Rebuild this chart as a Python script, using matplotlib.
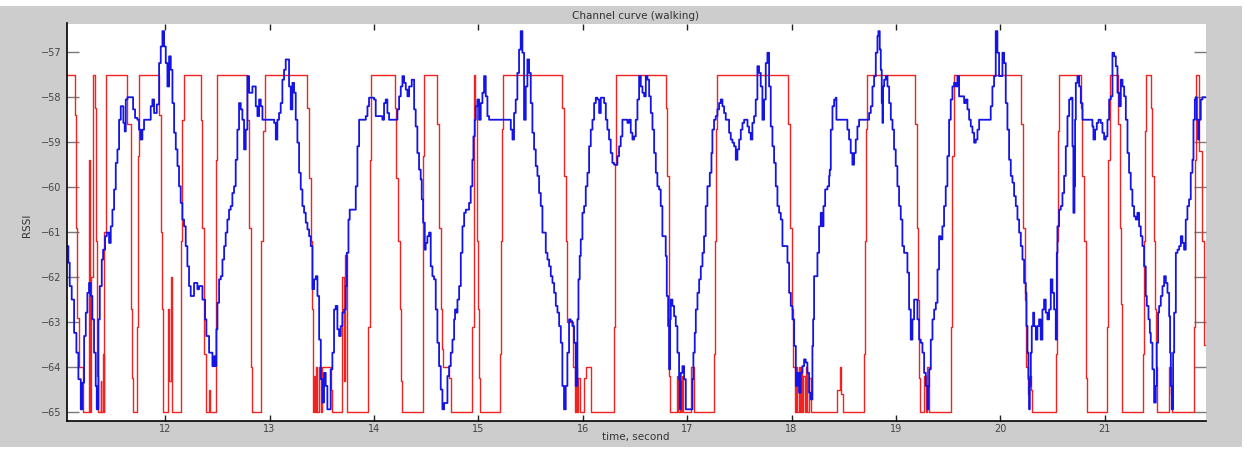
import matplotlib
matplotlib.use("Agg")
import matplotlib.pyplot as plt
from matplotlib.patches import Rectangle

# red curve : stepped estimate (time in s, RSSI)
red_t = [11.064, 11.134, 11.144, 11.160, 11.176, 11.214, 11.271, 11.281, 11.290, 11.313,
         11.326, 11.335, 11.351, 11.360, 11.383, 11.390, 11.405, 11.411, 11.415, 11.431,
         11.639, 11.671, 11.686, 11.693, 11.735, 11.741, 11.747, 11.942, 11.964, 11.974,
         11.984, 12.031, 12.038, 12.054, 12.064, 12.150, 12.166, 12.181, 12.341, 12.357,
         12.373, 12.389, 12.421, 12.431, 12.491, 12.501, 12.788, 12.804, 12.820, 12.830,
         12.916, 12.922, 12.938, 12.954, 13.363, 13.379, 13.395, 13.411, 13.420, 13.427,
         13.437, 13.446, 13.456, 13.475, 13.490, 13.506, 13.586, 13.600, 13.698, 13.710,
         13.725, 13.746, 13.947, 13.960, 13.969, 14.203, 14.215, 14.231, 14.247, 14.257,
         14.265, 14.474, 14.480, 14.608, 14.624, 14.640, 14.652, 14.660, 14.720, 14.736,
         14.943, 14.959, 14.970, 14.985, 15.001, 15.010, 15.017, 15.205, 15.221, 15.230,
         15.237, 15.799, 15.821, 15.837, 15.853, 15.908, 15.924, 15.935, 15.943, 15.959,
         15.970, 16.013, 16.029, 16.083, 16.300, 16.310, 16.323, 16.795, 16.811, 16.822,
         16.830, 16.840, 16.907, 16.915, 16.930, 16.939, 16.955, 16.962, 17.040, 17.067,
         17.258, 17.268, 17.280, 17.290, 17.970, 17.983, 18.002, 18.015, 18.030, 18.040,
         18.056, 18.068, 18.078, 18.088, 18.100, 18.112, 18.125, 18.140, 18.152, 18.170,
         18.184, 18.440, 18.462, 18.478, 18.490, 18.695, 18.705, 18.717, 18.727, 19.184,
         19.206, 19.216, 19.222, 19.230, 19.270, 19.285, 19.295, 19.318, 19.525, 19.541,
         19.557, 20.196, 20.218, 20.234, 20.250, 20.265, 20.275, 20.290, 20.308, 20.531,
         20.541, 20.553, 20.563, 20.771, 20.787, 20.803, 20.818, 20.834, 21.026, 21.036,
         21.048, 21.131, 21.144, 21.154, 21.170, 21.368, 21.377, 21.387, 21.393, 21.441,
         21.457, 21.473, 21.483, 21.495, 21.505, 21.617, 21.633, 21.649, 21.856, 21.866,
         21.878, 21.900, 21.930, 21.950, 21.970]
red_v = [-57.5, -58.4, -60.9, -62.9, -64.0, -65.0, -59.4, -65.0, -62.0, -57.5,
         -58.25, -61.2, -64.2, -65.0, -64.3, -65.0, -63.7, -65.0, -61.0, -57.5,
         -58.6, -62.7, -64.25, -65.0, -63.1, -59.3, -57.5, -58.4, -61.0, -62.7,
         -65.0, -62.7, -64.3, -62.0, -65.0, -61.2, -58.5, -57.5, -58.5, -60.9,
         -63.7, -65.0, -64.5, -65.0, -59.4, -57.5, -58.5, -60.9, -64.0, -65.0,
         -63.7, -61.2, -58.75, -57.5, -58.25, -59.8, -61.2, -62.7, -65.0, -64.2,
         -65.0, -64.0, -65.0, -64.0, -65.0, -64.0, -64.5, -65.0, -62.0, -64.3,
         -61.5, -65.0, -63.1, -59.4, -57.5, -58.25, -59.8, -61.2, -62.7, -64.3,
         -65.0, -59.3, -57.5, -58.6, -60.9, -62.7, -63.6, -64.0, -64.25, -65.0,
         -63.1, -57.5, -58.2, -61.2, -62.7, -64.25, -65.0, -63.7, -61.2, -58.7,
         -57.5, -58.25, -59.75, -61.2, -63.0, -64.0, -65.0, -64.0, -65.0, -64.25,
         -65.0, -64.25, -64.0, -65.0, -63.1, -59.5, -57.5, -58.25, -59.75, -61.2,
         -64.2, -65.0, -64.2, -65.0, -64.3, -65.0, -64.2, -65.0, -64.0, -65.0,
         -63.7, -61.2, -58.7, -57.5, -58.6, -60.9, -62.7, -64.0, -65.0, -64.0,
         -65.0, -64.0, -65.0, -64.0, -65.0, -64.2, -65.0, -64.0, -65.0, -64.25,
         -65.0, -64.5, -64.0, -64.6, -65.0, -63.7, -61.2, -58.7, -57.5, -58.6,
         -60.9, -62.5, -64.25, -65.0, -64.2, -65.0, -64.0, -65.0, -63.1, -59.3,
         -57.5, -58.6, -60.9, -62.5, -64.0, -64.6, -64.2, -64.5, -65.0, -63.7,
         -61.2, -58.75, -57.5, -58.25, -59.75, -61.2, -64.25, -65.0, -63.1, -59.4,
         -57.5, -58.6, -60.9, -62.6, -65.0, -63.7, -61.2, -58.75, -57.5, -58.25,
         -59.75, -61.2, -62.7, -64.0, -65.0, -64.0, -64.6, -65.0, -63.1, -59.4,
         -57.5, -59.2, -61.2, -63.5, -63.5]

# blue curve : measured RSSI
blue_t = [11.064, 11.073, 11.086, 11.105, 11.128, 11.150, 11.169, 11.192, 11.208, 11.224,
          11.240, 11.255, 11.271, 11.287, 11.303, 11.319, 11.335, 11.345, 11.361, 11.374,
          11.393, 11.406, 11.425, 11.441, 11.463, 11.479, 11.495, 11.511, 11.527, 11.543,
          11.559, 11.575, 11.591, 11.600, 11.613, 11.623, 11.639, 11.671, 11.693, 11.712,
          11.734, 11.750, 11.766, 11.782, 11.798, 11.830, 11.862, 11.878, 11.894, 11.920,
          11.942, 11.958, 11.974, 11.990, 12.006, 12.022, 12.038, 12.054, 12.070, 12.086,
          12.102, 12.118, 12.133, 12.149, 12.165, 12.181, 12.197, 12.213, 12.229, 12.245,
          12.277, 12.309, 12.325, 12.357, 12.383, 12.395, 12.421, 12.453, 12.469, 12.478,
          12.491, 12.501, 12.517, 12.533, 12.549, 12.565, 12.580, 12.596, 12.612, 12.628,
          12.644, 12.660, 12.676, 12.692, 12.708, 12.724, 12.740, 12.756, 12.772, 12.788,
          12.804, 12.836, 12.868, 12.884, 12.900, 12.916, 12.932, 13.044, 13.060, 13.075,
          13.091, 13.107, 13.123, 13.139, 13.155, 13.187, 13.203, 13.219, 13.235, 13.251,
          13.267, 13.283, 13.299, 13.315, 13.331, 13.347, 13.363, 13.379, 13.395, 13.411,
          13.427, 13.443, 13.459, 13.475, 13.491, 13.507, 13.522, 13.538, 13.554, 13.586,
          13.602, 13.618, 13.634, 13.650, 13.666, 13.682, 13.698, 13.714, 13.730, 13.740,
          13.756, 13.768, 13.794, 13.826, 13.842, 13.858, 13.922, 13.938, 13.953, 13.985,
          14.001, 14.017, 14.081, 14.097, 14.113, 14.129, 14.145, 14.225, 14.241, 14.257,
          14.273, 14.289, 14.305, 14.321, 14.337, 14.362, 14.385, 14.400, 14.416, 14.432,
          14.448, 14.458, 14.471, 14.487, 14.496, 14.512, 14.528, 14.544, 14.560, 14.576,
          14.592, 14.608, 14.624, 14.640, 14.656, 14.672, 14.704, 14.720, 14.736, 14.752,
          14.768, 14.777, 14.790, 14.800, 14.816, 14.832, 14.848, 14.864, 14.880, 14.911,
          14.927, 14.943, 14.953, 14.966, 14.975, 14.991, 15.007, 15.023, 15.039, 15.055,
          15.071, 15.087, 15.103, 15.311, 15.327, 15.342, 15.358, 15.374, 15.390, 15.406,
          15.422, 15.438, 15.454, 15.470, 15.486, 15.502, 15.518, 15.534, 15.550, 15.566,
          15.582, 15.598, 15.614, 15.646, 15.662, 15.678, 15.694, 15.710, 15.726, 15.742,
          15.758, 15.774, 15.790, 15.805, 15.821, 15.837, 15.853, 15.869, 15.885, 15.901,
          15.917, 15.933, 15.949, 15.959, 15.971, 15.981, 15.997, 16.013, 16.029, 16.045,
          16.061, 16.077, 16.093, 16.109, 16.125, 16.141, 16.157, 16.173, 16.205, 16.221,
          16.236, 16.252, 16.268, 16.284, 16.300, 16.332, 16.348, 16.364, 16.380, 16.428,
          16.444, 16.460, 16.476, 16.492, 16.508, 16.524, 16.540, 16.556, 16.572, 16.588,
          16.604, 16.620, 16.636, 16.652, 16.668, 16.684, 16.700, 16.715, 16.731, 16.747,
          16.763, 16.795, 16.805, 16.818, 16.827, 16.837, 16.843, 16.859, 16.875, 16.891,
          16.907, 16.923, 16.929, 16.939, 16.955, 16.971, 16.987, 17.051, 17.060, 17.073,
          17.083, 17.099, 17.115, 17.131, 17.147, 17.162, 17.178, 17.194, 17.217, 17.233,
          17.242, 17.258, 17.274, 17.290, 17.306, 17.322, 17.338, 17.354, 17.370, 17.402,
          17.418, 17.434, 17.450, 17.466, 17.482, 17.498, 17.514, 17.530, 17.546, 17.578,
          17.593, 17.609, 17.625, 17.641, 17.657, 17.673, 17.689, 17.705, 17.721, 17.737,
          17.753, 17.769, 17.785, 17.801, 17.817, 17.833, 17.849, 17.865, 17.881, 17.897,
          17.913, 17.961, 17.977, 17.993, 18.009, 18.025, 18.041, 18.056, 18.072, 18.088,
          18.104, 18.120, 18.136, 18.152, 18.168, 18.184, 18.200, 18.207, 18.216, 18.232,
          18.248, 18.264, 18.280, 18.296, 18.306, 18.322, 18.344, 18.360, 18.366, 18.376,
          18.392, 18.408, 18.424, 18.430, 18.519, 18.535, 18.551, 18.567, 18.583, 18.599,
          18.615, 18.631, 18.647, 18.743, 18.759, 18.775, 18.791, 18.807, 18.823, 18.832,
          18.845, 18.855, 18.864, 18.871, 18.877, 18.887, 18.903, 18.919, 18.935, 18.951,
          18.967, 18.982, 18.998, 19.014, 19.030, 19.046, 19.062, 19.078, 19.110, 19.126,
          19.142, 19.158, 19.174, 19.206, 19.222, 19.238, 19.254, 19.270, 19.286, 19.302,
          19.311, 19.318, 19.334, 19.350, 19.366, 19.382, 19.398, 19.413, 19.429, 19.445,
          19.461, 19.477, 19.493, 19.509, 19.525, 19.541, 19.557, 19.573, 19.589, 19.605,
          19.653, 19.669, 19.685, 19.701, 19.717, 19.733, 19.749, 19.765, 19.781, 19.797,
          19.908, 19.924, 19.940, 19.956, 19.972, 19.988, 20.020, 20.036, 20.052, 20.068,
          20.084, 20.100, 20.116, 20.132, 20.148, 20.164, 20.180, 20.196, 20.212, 20.228,
          20.244, 20.250, 20.260, 20.269, 20.276, 20.282, 20.292, 20.301, 20.314, 20.324,
          20.340, 20.355, 20.371, 20.387, 20.403, 20.419, 20.435, 20.451, 20.467, 20.483,
          20.499, 20.515, 20.531, 20.541, 20.547, 20.563, 20.579, 20.595, 20.611, 20.627,
          20.643, 20.659, 20.675, 20.691, 20.700, 20.710, 20.716, 20.723, 20.739, 20.755,
          20.771, 20.787, 20.882, 20.892, 20.908, 20.924, 20.940, 20.962, 20.978, 20.994,
          21.010, 21.026, 21.042, 21.058, 21.074, 21.090, 21.106, 21.122, 21.138, 21.154,
          21.170, 21.186, 21.202, 21.218, 21.233, 21.249, 21.265, 21.281, 21.297, 21.313,
          21.329, 21.345, 21.361, 21.377, 21.393, 21.403, 21.419, 21.432, 21.441, 21.457,
          21.473, 21.489, 21.498, 21.511, 21.521, 21.537, 21.553, 21.569, 21.585, 21.601,
          21.617, 21.626, 21.633, 21.642, 21.655, 21.665, 21.681, 21.697, 21.713, 21.729,
          21.744, 21.760, 21.776, 21.792, 21.808, 21.824, 21.840, 21.850, 21.863, 21.872,
          21.882, 21.894, 21.904, 21.920, 21.936, 21.970]
blue_v = [-61.31, -61.68, -62.2, -62.5, -63.24, -63.68, -64.27, -64.94, -64.35, -63.31,
          -62.79, -62.35, -62.13, -62.42, -62.94, -63.68, -64.42, -64.94, -62.94, -62.2,
          -61.61, -61.39, -61.09, -61.01, -61.24, -60.87, -60.5, -60.05, -59.46, -59.16,
          -58.5, -58.2, -58.2, -58.57, -58.76, -58.05, -58.0, -58.0, -58.27, -58.46,
          -58.5, -58.72, -58.94, -58.72, -58.5, -58.5, -58.2, -58.05, -58.35, -58.16,
          -57.24, -56.87, -56.53, -56.87, -57.24, -57.76, -57.09, -57.39, -58.13, -58.79,
          -59.16, -59.53, -59.98, -60.35, -60.72, -60.87, -61.31, -61.76, -62.2, -62.42,
          -62.13, -62.27, -62.2, -62.5, -62.94, -63.31, -63.68, -63.98, -63.76, -63.98,
          -63.16, -62.57, -62.05, -61.98, -61.61, -61.31, -61.01, -60.72, -60.5, -60.42,
          -60.13, -59.98, -59.39, -58.72, -58.13, -58.27, -58.5, -59.16, -58.72, -57.53,
          -57.9, -57.76, -58.2, -58.42, -58.05, -58.2, -58.5, -58.57, -58.94, -58.5,
          -58.35, -58.13, -57.61, -57.39, -57.16, -57.76, -58.27, -57.68, -57.9, -58.5,
          -59.01, -59.68, -60.05, -60.42, -60.57, -60.79, -60.94, -61.09, -61.31, -62.27,
          -62.05, -61.98, -62.42, -63.39, -64.27, -64.79, -64.13, -64.42, -64.94, -64.05,
          -63.68, -62.72, -62.64, -63.16, -63.31, -63.09, -62.79, -62.72, -62.2, -61.46,
          -60.72, -60.5, -60.5, -59.98, -59.09, -58.5, -58.42, -58.2, -58.01, -58.01,
          -58.05, -58.42, -58.5, -58.13, -58.05, -58.35, -58.5, -58.27, -57.98, -57.76,
          -57.53, -57.68, -57.83, -57.98, -57.76, -57.61, -58.27, -58.65, -59.24, -59.61,
          -59.83, -60.27, -60.79, -61.39, -61.24, -61.09, -61.01, -61.76, -61.98, -62.05,
          -62.72, -63.46, -63.98, -64.5, -64.94, -64.8, -64.2, -63.98, -63.68, -63.39,
          -62.94, -62.72, -62.79, -62.5, -62.2, -61.46, -60.87, -60.57, -60.5, -60.35,
          -59.98, -59.39, -58.87, -58.5, -58.2, -58.05, -58.5, -58.13, -57.9, -57.53,
          -57.98, -58.42, -58.5, -58.72, -58.94, -58.35, -58.05, -57.46, -56.94, -56.53,
          -57.01, -58.5, -57.76, -57.16, -57.46, -58.13, -58.79, -59.16, -59.53, -59.75,
          -60.13, -60.42, -61.01, -61.46, -61.61, -61.76, -61.98, -62.13, -62.35, -62.64,
          -62.79, -63.09, -63.46, -64.42, -64.94, -64.42, -63.68, -62.94, -62.98, -63.09,
          -63.46, -64.42, -62.94, -62.05, -61.53, -61.16, -60.57, -60.42, -59.98, -59.68,
          -59.09, -58.72, -58.5, -58.13, -58.01, -58.05, -58.35, -58.01, -58.13, -58.5,
          -58.72, -58.94, -59.24, -59.46, -59.5, -59.31, -59.09, -58.87, -58.5, -58.57,
          -58.5, -58.79, -58.94, -58.87, -58.5, -58.05, -57.53, -57.76, -57.9, -57.98,
          -57.53, -57.61, -57.98, -58.35, -58.72, -59.24, -59.68, -59.98, -60.05, -60.42,
          -61.09, -61.53, -62.42, -63.09, -64.05, -62.94, -62.5, -62.64, -62.87, -63.09,
          -63.68, -64.27, -64.94, -64.13, -63.98, -64.27, -64.94, -64.27, -63.68, -63.24,
          -62.72, -62.35, -62.05, -61.76, -61.46, -61.09, -60.42, -59.98, -59.68, -59.24,
          -58.72, -58.5, -58.42, -58.27, -58.13, -58.05, -58.2, -58.35, -58.5, -58.79,
          -58.94, -59.01, -59.09, -59.39, -59.16, -58.94, -58.72, -58.57, -58.5, -58.65,
          -58.79, -58.94, -58.57, -58.42, -58.05, -57.31, -57.46, -57.76, -58.5, -58.05,
          -57.24, -57.01, -57.76, -58.65, -59.09, -59.46, -59.98, -60.42, -60.57, -60.72,
          -61.31, -61.68, -62.35, -62.64, -62.94, -63.53, -64.42, -64.13, -64.57, -64.13,
          -63.98, -63.83, -63.9, -64.13, -64.57, -64.72, -63.53, -62.94, -61.98, -61.98,
          -61.46, -60.87, -60.57, -60.87, -60.42, -60.05, -59.98, -59.75, -59.61, -58.72,
          -58.2, -58.05, -58.01, -58.5, -58.5, -58.72, -58.94, -59.24, -59.5, -59.24,
          -58.94, -58.65, -58.5, -58.35, -58.2, -57.76, -57.53, -57.01, -56.64, -56.53,
          -56.94, -57.39, -58.13, -58.57, -57.76, -57.61, -57.53, -57.76, -58.13, -58.5,
          -58.72, -59.16, -59.53, -59.98, -60.42, -60.72, -61.31, -61.46, -61.9, -62.72,
          -63.39, -62.94, -62.5, -62.94, -63.39, -63.46, -63.68, -64.13, -64.42, -64.94,
          -64.42, -64.05, -63.39, -62.94, -62.72, -62.57, -61.83, -61.09, -61.16, -60.87,
          -60.42, -59.98, -59.31, -58.5, -58.05, -57.76, -57.68, -57.76, -57.53, -57.98,
          -58.13, -58.05, -58.27, -58.5, -58.65, -58.79, -59.01, -58.94, -58.72, -58.5,
          -58.2, -57.76, -57.53, -56.53, -57.01, -57.53, -57.01, -57.24, -58.13, -58.72,
          -59.39, -59.75, -59.9, -60.2, -60.42, -60.72, -61.01, -61.31, -61.61, -62.13,
          -62.35, -63.09, -63.68, -64.27, -64.94, -64.42, -63.68, -63.09, -62.79, -63.09,
          -63.39, -63.09, -62.94, -63.39, -62.72, -62.5, -62.79, -62.94, -62.72, -62.05,
          -62.35, -62.72, -63.39, -61.46, -60.87, -60.5, -60.42, -60.13, -59.75, -59.09,
          -58.42, -58.05, -58.01, -59.09, -60.57, -59.98, -58.5, -57.68, -57.53, -57.76,
          -58.13, -58.5, -58.65, -58.94, -58.72, -58.57, -58.5, -58.57, -58.79, -58.94,
          -58.87, -58.5, -58.05, -57.98, -57.01, -57.09, -57.31, -57.9, -58.2, -57.61,
          -57.76, -57.98, -58.5, -59.24, -59.68, -60.05, -60.42, -60.65, -60.72, -60.57,
          -60.87, -61.09, -61.31, -61.76, -62.42, -62.64, -62.94, -63.24, -63.46, -64.05,
          -64.79, -64.42, -63.46, -62.79, -62.64, -62.42, -62.2, -61.98, -62.13, -62.35,
          -62.87, -63.68, -64.42, -64.94, -63.68, -62.79, -61.46, -61.39, -61.31, -61.09,
          -61.24, -61.39, -60.72, -60.42, -60.27, -59.68, -59.39, -58.5, -58.05, -58.0,
          -58.5, -58.94, -58.5, -58.05, -58.0, -58.0]

xticks = [12, 13, 14, 15, 16, 17, 18, 19, 20, 21]
yticks = [-65, -64, -63, -62, -61, -60, -59, -58, -57]

W, H = 1245, 459
fig = plt.figure(figsize=(W / 100, H / 100), dpi=100)
fig.patch.set_facecolor("white")
# grey window background of the screenshot
fig.patches.append(Rectangle((0, 12 / H), 1242 / W, 441 / H, transform=fig.transFigure,
                             facecolor="#cdcdcd", edgecolor="none", zorder=-5))

ax = fig.add_axes([67 / W, 38 / H, 1139 / W, 397.5 / H])
ax.set_zorder(1)
ax.set_facecolor("white")

ax.plot(red_t, red_v, color="#f02222", lw=1.0, drawstyle="steps-post")
ax.plot(blue_t, blue_v, color="#1414e6", lw=1.3, drawstyle="steps-post")

ax.set_xlim(11.06, 21.97)
ax.set_ylim(-65.2, -56.36)
ax.set_xticks(xticks)
ax.set_yticks(yticks)

for s in ["top", "right"]:
    ax.spines[s].set_visible(False)
for s in ["left", "bottom"]:
    ax.spines[s].set_color("black")
    ax.spines[s].set_linewidth(1.2)

ax.tick_params(axis="x", direction="in", top=True, length=4, width=1, color="#222222",
               labelsize=7, labelcolor="#444444", pad=2)
ax.tick_params(axis="y", direction="in", right=True, length=8.5, width=1, color="#7a7a7a",
               labelsize=7, labelcolor="#444444", pad=4)

fig.text(636 / W, 1 - 16 / H, "Channel curve (walking)", ha="center", va="center",
         fontsize=7.5, color="#333333")
fig.text(636 / W, 1 - 437 / H, "time, second", ha="center", va="center",
         fontsize=7.5, color="#333333")
fig.text(27 / W, 1 - 225 / H, "RSSI", ha="center", va="center", rotation=90,
         fontsize=7.5, color="#333333")

fig.savefig("out.png", dpi=100)
